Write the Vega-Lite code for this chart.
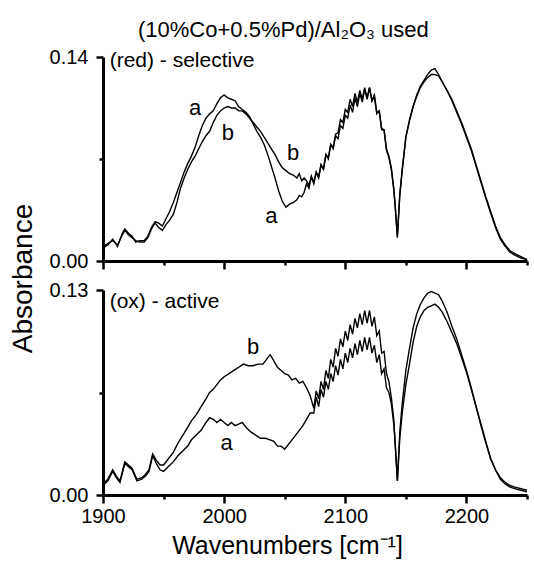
{
 "$schema": "https://vega.github.io/schema/vega-lite/v6.json",
 "background": "white",
 "padding": {"left": 9, "top": 19, "right": 2, "bottom": 2},
 "title": {"text": "(10%Co+0.5%Pd)/Al₂O₃ used", "fontSize": 22, "fontWeight": "normal", "font": "Liberation Sans", "color": "black", "anchor": "middle", "dx": 14, "offset": 5},
 "datasets": {
  "red_a": [{"wn":1900,"abs":0.009},{"wn":1904,"abs":0.011},{"wn":1908,"abs":0.015},{"wn":1912,"abs":0.010},{"wn":1916,"abs":0.019},{"wn":1918,"abs":0.022},{"wn":1921,"abs":0.019},{"wn":1924,"abs":0.017},{"wn":1927,"abs":0.013},{"wn":1930,"abs":0.014},{"wn":1934,"abs":0.014},{"wn":1937,"abs":0.017},{"wn":1940,"abs":0.023},{"wn":1943,"abs":0.027},{"wn":1946,"abs":0.026},{"wn":1949,"abs":0.024},{"wn":1952,"abs":0.029},{"wn":1955,"abs":0.034},{"wn":1958,"abs":0.040},{"wn":1961,"abs":0.047},{"wn":1964,"abs":0.054},{"wn":1967,"abs":0.061},{"wn":1970,"abs":0.067},{"wn":1973,"abs":0.072},{"wn":1976,"abs":0.078},{"wn":1979,"abs":0.086},{"wn":1982,"abs":0.093},{"wn":1985,"abs":0.098},{"wn":1988,"abs":0.101},{"wn":1991,"abs":0.103},{"wn":1994,"abs":0.108},{"wn":1997,"abs":0.112},{"wn":2000,"abs":0.114},{"wn":2003,"abs":0.112},{"wn":2006,"abs":0.111},{"wn":2009,"abs":0.110},{"wn":2012,"abs":0.106},{"wn":2015,"abs":0.104},{"wn":2018,"abs":0.102},{"wn":2021,"abs":0.099},{"wn":2024,"abs":0.094},{"wn":2027,"abs":0.089},{"wn":2030,"abs":0.085},{"wn":2033,"abs":0.080},{"wn":2036,"abs":0.073},{"wn":2039,"abs":0.065},{"wn":2042,"abs":0.057},{"wn":2045,"abs":0.048},{"wn":2048,"abs":0.041},{"wn":2051,"abs":0.037},{"wn":2054,"abs":0.039},{"wn":2057,"abs":0.040},{"wn":2060,"abs":0.042},{"wn":2062,"abs":0.045},{"wn":2064,"abs":0.044},{"wn":2066,"abs":0.047},
   {"wn":2068,"abs":0.053},{"wn":2070,"abs":0.050},{"wn":2072,"abs":0.058},{"wn":2074,"abs":0.053},{"wn":2076,"abs":0.061},{"wn":2078,"abs":0.057},{"wn":2080,"abs":0.066},{"wn":2082,"abs":0.063},{"wn":2084,"abs":0.073},{"wn":2086,"abs":0.071},{"wn":2088,"abs":0.080},{"wn":2090,"abs":0.077},{"wn":2092,"abs":0.086},{"wn":2094,"abs":0.084},{"wn":2096,"abs":0.093},{"wn":2098,"abs":0.091},{"wn":2100,"abs":0.100},{"wn":2102,"abs":0.098},{"wn":2104,"abs":0.107},{"wn":2106,"abs":0.102},{"wn":2108,"abs":0.112},{"wn":2110,"abs":0.106},{"wn":2112,"abs":0.115},{"wn":2114,"abs":0.109},{"wn":2116,"abs":0.118},{"wn":2118,"abs":0.111},{"wn":2120,"abs":0.119},{"wn":2122,"abs":0.110},{"wn":2124,"abs":0.114},{"wn":2126,"abs":0.102},{"wn":2128,"abs":0.103},{"wn":2130,"abs":0.091},{"wn":2132,"abs":0.090},{"wn":2134,"abs":0.077},{"wn":2136,"abs":0.072},{"wn":2138,"abs":0.064},{"wn":2140,"abs":0.050},{"wn":2141,"abs":0.040},{"wn":2143,"abs":0.016},
   {"wn":2145,"abs":0.045},{"wn":2147,"abs":0.062},{"wn":2150,"abs":0.085},{"wn":2153,"abs":0.096},{"wn":2156,"abs":0.106},{"wn":2159,"abs":0.114},{"wn":2162,"abs":0.120},{"wn":2165,"abs":0.124},{"wn":2168,"abs":0.128},{"wn":2171,"abs":0.131},{"wn":2174,"abs":0.132},{"wn":2177,"abs":0.128},{"wn":2180,"abs":0.123},{"wn":2184,"abs":0.117},{"wn":2188,"abs":0.110},{"wn":2192,"abs":0.102},{"wn":2196,"abs":0.094},{"wn":2200,"abs":0.085},{"wn":2204,"abs":0.076},{"wn":2208,"abs":0.065},{"wn":2212,"abs":0.054},{"wn":2216,"abs":0.043},{"wn":2220,"abs":0.033},{"wn":2224,"abs":0.023},{"wn":2228,"abs":0.015},{"wn":2232,"abs":0.010},{"wn":2236,"abs":0.006},{"wn":2240,"abs":0.004},{"wn":2245,"abs":0.002},{"wn":2250,"abs":0.001}],
  "red_b": [{"wn":1900,"abs":0.010},{"wn":1904,"abs":0.012},{"wn":1908,"abs":0.014},{"wn":1912,"abs":0.011},{"wn":1916,"abs":0.018},{"wn":1918,"abs":0.021},{"wn":1921,"abs":0.018},{"wn":1924,"abs":0.016},{"wn":1927,"abs":0.014},{"wn":1930,"abs":0.013},{"wn":1934,"abs":0.013},{"wn":1937,"abs":0.016},{"wn":1940,"abs":0.022},{"wn":1943,"abs":0.026},{"wn":1946,"abs":0.023},{"wn":1949,"abs":0.021},{"wn":1952,"abs":0.025},{"wn":1955,"abs":0.028},{"wn":1958,"abs":0.032},{"wn":1961,"abs":0.040},{"wn":1964,"abs":0.050},{"wn":1967,"abs":0.057},{"wn":1970,"abs":0.063},{"wn":1973,"abs":0.068},{"wn":1976,"abs":0.072},{"wn":1979,"abs":0.077},{"wn":1982,"abs":0.082},{"wn":1985,"abs":0.086},{"wn":1988,"abs":0.089},{"wn":1991,"abs":0.095},{"wn":1994,"abs":0.100},{"wn":1997,"abs":0.103},{"wn":2000,"abs":0.105},{"wn":2003,"abs":0.106},{"wn":2006,"abs":0.105},{"wn":2009,"abs":0.105},{"wn":2012,"abs":0.103},{"wn":2015,"abs":0.103},{"wn":2018,"abs":0.101},{"wn":2021,"abs":0.098},{"wn":2024,"abs":0.095},{"wn":2027,"abs":0.092},{"wn":2030,"abs":0.089},{"wn":2033,"abs":0.085},{"wn":2036,"abs":0.081},{"wn":2039,"abs":0.077},{"wn":2042,"abs":0.073},{"wn":2045,"abs":0.068},{"wn":2048,"abs":0.064},{"wn":2051,"abs":0.062},{"wn":2054,"abs":0.060},{"wn":2057,"abs":0.059},{"wn":2060,"abs":0.057},{"wn":2062,"abs":0.060},{"wn":2064,"abs":0.055},{"wn":2066,"abs":0.057},
   {"wn":2068,"abs":0.055},{"wn":2070,"abs":0.052},{"wn":2072,"abs":0.058},{"wn":2074,"abs":0.054},{"wn":2076,"abs":0.061},{"wn":2078,"abs":0.058},{"wn":2080,"abs":0.066},{"wn":2082,"abs":0.063},{"wn":2084,"abs":0.073},{"wn":2086,"abs":0.070},{"wn":2088,"abs":0.080},{"wn":2090,"abs":0.078},{"wn":2092,"abs":0.087},{"wn":2094,"abs":0.088},{"wn":2096,"abs":0.097},{"wn":2098,"abs":0.095},{"wn":2100,"abs":0.104},{"wn":2102,"abs":0.102},{"wn":2104,"abs":0.111},{"wn":2106,"abs":0.106},{"wn":2108,"abs":0.115},{"wn":2110,"abs":0.109},{"wn":2112,"abs":0.117},{"wn":2114,"abs":0.111},{"wn":2116,"abs":0.119},{"wn":2118,"abs":0.112},{"wn":2120,"abs":0.119},{"wn":2122,"abs":0.110},{"wn":2124,"abs":0.113},{"wn":2126,"abs":0.101},{"wn":2128,"abs":0.103},{"wn":2130,"abs":0.090},{"wn":2132,"abs":0.090},{"wn":2134,"abs":0.076},{"wn":2136,"abs":0.071},{"wn":2138,"abs":0.063},{"wn":2140,"abs":0.049},{"wn":2141,"abs":0.040},{"wn":2143,"abs":0.017},
   {"wn":2145,"abs":0.046},{"wn":2147,"abs":0.063},{"wn":2150,"abs":0.085},{"wn":2153,"abs":0.097},{"wn":2156,"abs":0.106},{"wn":2159,"abs":0.113},{"wn":2162,"abs":0.119},{"wn":2165,"abs":0.123},{"wn":2168,"abs":0.126},{"wn":2171,"abs":0.128},{"wn":2174,"abs":0.128},{"wn":2177,"abs":0.127},{"wn":2180,"abs":0.123},{"wn":2184,"abs":0.117},{"wn":2188,"abs":0.111},{"wn":2192,"abs":0.103},{"wn":2196,"abs":0.095},{"wn":2200,"abs":0.086},{"wn":2204,"abs":0.077},{"wn":2208,"abs":0.066},{"wn":2212,"abs":0.055},{"wn":2216,"abs":0.044},{"wn":2220,"abs":0.034},{"wn":2224,"abs":0.024},{"wn":2228,"abs":0.016},{"wn":2232,"abs":0.011},{"wn":2236,"abs":0.007},{"wn":2240,"abs":0.005},{"wn":2245,"abs":0.003},{"wn":2250,"abs":0.001}],
  "ox_a": [{"wn":1900,"abs":0.006},{"wn":1904,"abs":0.009},{"wn":1908,"abs":0.015},{"wn":1911,"abs":0.011},{"wn":1914,"abs":0.008},{"wn":1918,"abs":0.020},{"wn":1921,"abs":0.018},{"wn":1924,"abs":0.016},{"wn":1928,"abs":0.009},{"wn":1932,"abs":0.010},{"wn":1935,"abs":0.012},{"wn":1938,"abs":0.015},{"wn":1941,"abs":0.025},{"wn":1944,"abs":0.020},{"wn":1947,"abs":0.016},{"wn":1950,"abs":0.015},{"wn":1954,"abs":0.018},{"wn":1958,"abs":0.021},{"wn":1962,"abs":0.025},{"wn":1966,"abs":0.028},{"wn":1970,"abs":0.031},{"wn":1973,"abs":0.035},{"wn":1977,"abs":0.038},{"wn":1981,"abs":0.041},{"wn":1985,"abs":0.046},{"wn":1988,"abs":0.049},{"wn":1991,"abs":0.048},{"wn":1994,"abs":0.046},{"wn":1997,"abs":0.048},{"wn":2000,"abs":0.046},{"wn":2003,"abs":0.044},{"wn":2006,"abs":0.046},{"wn":2009,"abs":0.044},{"wn":2012,"abs":0.045},{"wn":2015,"abs":0.046},{"wn":2018,"abs":0.043},{"wn":2022,"abs":0.040},{"wn":2026,"abs":0.038},{"wn":2030,"abs":0.036},{"wn":2034,"abs":0.036},{"wn":2038,"abs":0.035},{"wn":2041,"abs":0.034},{"wn":2044,"abs":0.031},{"wn":2047,"abs":0.031},{"wn":2050,"abs":0.029},{"wn":2053,"abs":0.032},{"wn":2056,"abs":0.035},{"wn":2059,"abs":0.038},{"wn":2062,"abs":0.041},{"wn":2065,"abs":0.044},{"wn":2068,"abs":0.048},{"wn":2071,"abs":0.052},
   {"wn":2074,"abs":0.052},{"wn":2076,"abs":0.062},{"wn":2078,"abs":0.056},{"wn":2080,"abs":0.067},{"wn":2082,"abs":0.062},{"wn":2084,"abs":0.072},{"wn":2086,"abs":0.067},{"wn":2088,"abs":0.077},{"wn":2090,"abs":0.072},{"wn":2092,"abs":0.082},{"wn":2094,"abs":0.076},{"wn":2096,"abs":0.086},{"wn":2098,"abs":0.080},{"wn":2100,"abs":0.090},{"wn":2102,"abs":0.084},{"wn":2104,"abs":0.093},{"wn":2106,"abs":0.087},{"wn":2108,"abs":0.096},{"wn":2110,"abs":0.089},{"wn":2112,"abs":0.098},{"wn":2114,"abs":0.091},{"wn":2116,"abs":0.100},{"wn":2118,"abs":0.092},{"wn":2120,"abs":0.100},{"wn":2122,"abs":0.090},{"wn":2124,"abs":0.095},{"wn":2126,"abs":0.084},{"wn":2128,"abs":0.089},{"wn":2130,"abs":0.077},{"wn":2132,"abs":0.080},{"wn":2134,"abs":0.068},{"wn":2136,"abs":0.065},{"wn":2138,"abs":0.058},{"wn":2140,"abs":0.045},{"wn":2141,"abs":0.035},{"wn":2143,"abs":0.009},
   {"wn":2145,"abs":0.036},{"wn":2147,"abs":0.052},{"wn":2150,"abs":0.070},{"wn":2153,"abs":0.083},{"wn":2156,"abs":0.097},{"wn":2159,"abs":0.107},{"wn":2162,"abs":0.113},{"wn":2165,"abs":0.117},{"wn":2168,"abs":0.119},{"wn":2171,"abs":0.120},{"wn":2174,"abs":0.121},{"wn":2177,"abs":0.119},{"wn":2180,"abs":0.116},{"wn":2184,"abs":0.110},{"wn":2188,"abs":0.103},{"wn":2192,"abs":0.096},{"wn":2196,"abs":0.087},{"wn":2200,"abs":0.078},{"wn":2204,"abs":0.067},{"wn":2208,"abs":0.056},{"wn":2212,"abs":0.044},{"wn":2216,"abs":0.033},{"wn":2220,"abs":0.023},{"wn":2224,"abs":0.016},{"wn":2228,"abs":0.010},{"wn":2232,"abs":0.007},{"wn":2236,"abs":0.005},{"wn":2240,"abs":0.004},{"wn":2245,"abs":0.003},{"wn":2250,"abs":0.002}],
  "ox_b": [{"wn":1900,"abs":0.007},{"wn":1904,"abs":0.010},{"wn":1908,"abs":0.016},{"wn":1911,"abs":0.012},{"wn":1914,"abs":0.009},{"wn":1918,"abs":0.021},{"wn":1921,"abs":0.019},{"wn":1924,"abs":0.017},{"wn":1928,"abs":0.010},{"wn":1932,"abs":0.011},{"wn":1935,"abs":0.013},{"wn":1938,"abs":0.016},{"wn":1941,"abs":0.026},{"wn":1944,"abs":0.022},{"wn":1947,"abs":0.019},{"wn":1950,"abs":0.019},{"wn":1954,"abs":0.023},{"wn":1958,"abs":0.027},{"wn":1962,"abs":0.033},{"wn":1966,"abs":0.038},{"wn":1970,"abs":0.043},{"wn":1973,"abs":0.047},{"wn":1977,"abs":0.051},{"wn":1981,"abs":0.056},{"wn":1985,"abs":0.061},{"wn":1988,"abs":0.065},{"wn":1991,"abs":0.067},{"wn":1994,"abs":0.070},{"wn":1997,"abs":0.073},{"wn":2000,"abs":0.075},{"wn":2004,"abs":0.077},{"wn":2008,"abs":0.079},{"wn":2012,"abs":0.081},{"wn":2016,"abs":0.083},{"wn":2020,"abs":0.082},{"wn":2024,"abs":0.082},{"wn":2028,"abs":0.083},{"wn":2032,"abs":0.083},{"wn":2035,"abs":0.086},{"wn":2038,"abs":0.089},{"wn":2041,"abs":0.085},{"wn":2044,"abs":0.081},{"wn":2047,"abs":0.079},{"wn":2050,"abs":0.077},{"wn":2053,"abs":0.076},{"wn":2056,"abs":0.073},{"wn":2059,"abs":0.074},{"wn":2062,"abs":0.071},{"wn":2065,"abs":0.072},{"wn":2068,"abs":0.068},{"wn":2071,"abs":0.063},
   {"wn":2074,"abs":0.055},{"wn":2076,"abs":0.066},{"wn":2078,"abs":0.061},{"wn":2080,"abs":0.072},{"wn":2082,"abs":0.067},{"wn":2084,"abs":0.079},{"wn":2086,"abs":0.074},{"wn":2088,"abs":0.086},{"wn":2090,"abs":0.081},{"wn":2092,"abs":0.093},{"wn":2094,"abs":0.088},{"wn":2096,"abs":0.099},{"wn":2098,"abs":0.094},{"wn":2100,"abs":0.104},{"wn":2102,"abs":0.098},{"wn":2104,"abs":0.108},{"wn":2106,"abs":0.102},{"wn":2108,"abs":0.112},{"wn":2110,"abs":0.106},{"wn":2112,"abs":0.115},{"wn":2114,"abs":0.108},{"wn":2116,"abs":0.117},{"wn":2118,"abs":0.109},{"wn":2120,"abs":0.117},{"wn":2122,"abs":0.107},{"wn":2124,"abs":0.113},{"wn":2126,"abs":0.101},{"wn":2128,"abs":0.104},{"wn":2130,"abs":0.090},{"wn":2132,"abs":0.091},{"wn":2134,"abs":0.077},{"wn":2136,"abs":0.072},{"wn":2138,"abs":0.062},{"wn":2140,"abs":0.048},{"wn":2141,"abs":0.035},{"wn":2143,"abs":0.009},
   {"wn":2145,"abs":0.040},{"wn":2147,"abs":0.058},{"wn":2150,"abs":0.079},{"wn":2153,"abs":0.093},{"wn":2156,"abs":0.106},{"wn":2159,"abs":0.115},{"wn":2162,"abs":0.121},{"wn":2165,"abs":0.125},{"wn":2168,"abs":0.128},{"wn":2171,"abs":0.129},{"wn":2174,"abs":0.128},{"wn":2177,"abs":0.127},{"wn":2180,"abs":0.123},{"wn":2184,"abs":0.116},{"wn":2188,"abs":0.107},{"wn":2192,"abs":0.099},{"wn":2196,"abs":0.089},{"wn":2200,"abs":0.079},{"wn":2204,"abs":0.068},{"wn":2208,"abs":0.056},{"wn":2212,"abs":0.045},{"wn":2216,"abs":0.034},{"wn":2220,"abs":0.023},{"wn":2224,"abs":0.016},{"wn":2228,"abs":0.011},{"wn":2232,"abs":0.008},{"wn":2236,"abs":0.006},{"wn":2240,"abs":0.005},{"wn":2245,"abs":0.004},{"wn":2250,"abs":0.003}],
  "red_labels": [{"wn":1976,"abs":0.105,"label":"a"},{"wn":2003,"abs":0.0876,"label":"b"},{"wn":2057,"abs":0.074,"label":"b"},{"wn":2039,"abs":0.031,"label":"a"}],
  "ox_labels": [{"wn":2024,"abs":0.094,"label":"b"},{"wn":2002,"abs":0.0327,"label":"a"}],
  "red_head": [{"wn":1905.5,"abs":0.137,"label":"(red) - selective"}],
  "ox_head": [{"wn":1905.5,"abs":0.1225,"label":"(ox) - active"}]
 },
 "spacing": 29,
 "bounds": "flush",
 "vconcat": [
  {
   "width": 424, "height": 204,
   "layer": [
    {"data": {"name": "red_a"}, "mark": {"type": "line", "color": "black", "strokeWidth": 1.4},
     "encoding": {
      "x": {"field": "wn", "type": "quantitative", "scale": {"domain": [1900, 2250], "nice": false, "zero": false},
            "axis": {"orient": "bottom", "values": [1900, 2000, 2100, 2200], "labels": false, "title": null, "tickSize": 8, "tickWidth": 2.5, "domainWidth": 3}},
      "y": {"field": "abs", "type": "quantitative", "scale": {"domain": [0, 0.14], "nice": false},
            "axis": {"orient": "left", "values": [0, 0.14], "format": ".2f", "tickSize": 7, "tickWidth": 2.5, "domainWidth": 3, "labelPadding": 8,
                     "title": "Absorbance", "titleFontSize": 28, "titleX": -80, "titleY": 221, "titleAngle": 270, "titleAlign": "center", "titleBaseline": "middle"}}
     }},
    {"data": {"name": "red_b"}, "mark": {"type": "line", "color": "black", "strokeWidth": 1.4},
     "encoding": {"x": {"field": "wn", "type": "quantitative", "axis": null}, "y": {"field": "abs", "type": "quantitative", "axis": null}}},
    {"data": {"name": "red_labels"}, "mark": {"type": "text", "fontSize": 22, "color": "black", "align": "center", "baseline": "middle"},
     "encoding": {
      "x": {"field": "wn", "type": "quantitative", "axis": {"orient": "bottom", "values": [1950, 2050, 2150, 2250], "labels": false, "domain": false, "title": null, "tickSize": 4, "tickWidth": 2.5}},
      "y": {"field": "abs", "type": "quantitative", "axis": {"orient": "left", "values": [0.07], "labels": false, "domain": false, "title": null, "tickSize": 4, "tickWidth": 2.5}},
      "text": {"field": "label"}}},
    {"data": {"name": "red_head"}, "mark": {"type": "text", "fontSize": 21, "color": "black", "align": "left", "baseline": "middle"},
     "encoding": {"x": {"field": "wn", "type": "quantitative", "axis": null}, "y": {"field": "abs", "type": "quantitative", "axis": null}, "text": {"field": "label"}}}
   ],
   "resolve": {"axis": {"x": "independent", "y": "independent"}}
  },
  {
   "width": 424, "height": 205,
   "layer": [
    {"data": {"name": "ox_a"}, "mark": {"type": "line", "color": "black", "strokeWidth": 1.4},
     "encoding": {
      "x": {"field": "wn", "type": "quantitative", "scale": {"domain": [1900, 2250], "nice": false, "zero": false},
            "axis": {"orient": "bottom", "values": [1900, 2000, 2100, 2200], "format": "d", "labelFlush": false, "tickSize": 8, "tickWidth": 2.5, "domainWidth": 3, "labelPadding": 3,
                     "title": "Wavenumbers [cm⁻¹]", "titleFontSize": 25, "titleX": 184, "titleY": 58, "titleAlign": "center", "titleBaseline": "alphabetic"}},
      "y": {"field": "abs", "type": "quantitative", "scale": {"domain": [0, 0.13], "nice": false},
            "axis": {"orient": "left", "values": [0, 0.13], "format": ".2f", "tickSize": 7, "tickWidth": 2.5, "domainWidth": 3, "labelPadding": 8, "title": null}}
     }},
    {"data": {"name": "ox_b"}, "mark": {"type": "line", "color": "black", "strokeWidth": 1.4},
     "encoding": {"x": {"field": "wn", "type": "quantitative", "axis": null}, "y": {"field": "abs", "type": "quantitative", "axis": null}}},
    {"data": {"name": "ox_labels"}, "mark": {"type": "text", "fontSize": 22, "color": "black", "align": "center", "baseline": "middle"},
     "encoding": {
      "x": {"field": "wn", "type": "quantitative", "axis": {"orient": "bottom", "values": [1950, 2050, 2150, 2250], "labels": false, "domain": false, "title": null, "tickSize": 4, "tickWidth": 2.5}},
      "y": {"field": "abs", "type": "quantitative", "axis": {"orient": "left", "values": [0.065], "labels": false, "domain": false, "title": null, "tickSize": 4, "tickWidth": 2.5}},
      "text": {"field": "label"}}},
    {"data": {"name": "ox_head"}, "mark": {"type": "text", "fontSize": 21, "color": "black", "align": "left", "baseline": "middle"},
     "encoding": {"x": {"field": "wn", "type": "quantitative", "axis": null}, "y": {"field": "abs", "type": "quantitative", "axis": null}, "text": {"field": "label"}}}
   ],
   "resolve": {"axis": {"x": "independent", "y": "independent"}}
  }
 ],
 "config": {
  "view": {"stroke": null},
  "font": "Liberation Sans",
  "text": {"font": "Liberation Sans"},
  "axis": {"grid": false, "domainColor": "black", "tickColor": "black", "labelColor": "black", "titleColor": "black",
           "labelFont": "Liberation Sans", "titleFont": "Liberation Sans", "labelFontSize": 20, "titleFontWeight": "normal", "labelFlush": false}
 }
}
